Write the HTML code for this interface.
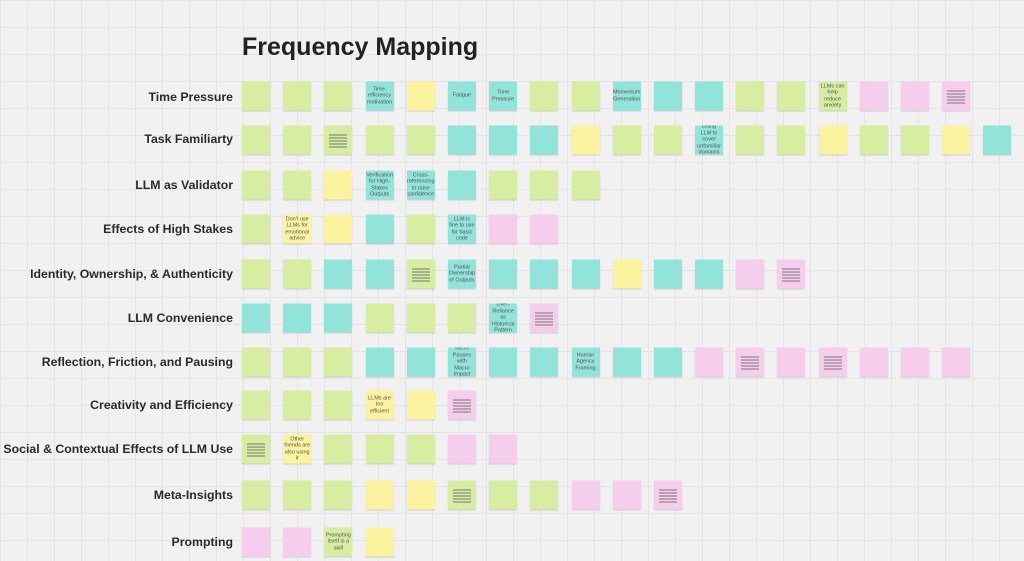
<!DOCTYPE html>
<html><head><meta charset="utf-8"><style>
html,body{margin:0;padding:0}
body{width:1024px;height:561px;overflow:hidden;position:relative;background:#f1f1f1;
background-image:linear-gradient(#e4e4e4 1px,transparent 1px),linear-gradient(90deg,#e4e4e4 1px,transparent 1px);
background-size:27px 27px;font-family:"Liberation Sans",sans-serif}
h1{position:absolute;left:242px;top:33px;margin:0;font-size:25px;font-weight:bold;color:#222}
.lab{position:absolute;right:791px;font-size:12.3px;font-weight:bold;color:#2a2a2a;white-space:nowrap;transform:translateY(-50%)}
.row{position:absolute;left:242px;display:flex;gap:13.2px;transform:translateY(-50%)}
.n{width:28px;height:29px;box-shadow:0 1px 1px rgba(0,0,0,.15);font-size:4.5px;line-height:5px;color:#555;text-align:center;display:flex;align-items:center;justify-content:center;overflow:hidden;padding:1px;box-sizing:border-box}
.g{background:#d6eda2}.c{background:#92e3da}.y{background:#fbf3a0}.p{background:#f7cdee}
.ln{width:18px;height:15px;background:repeating-linear-gradient(#0000 0 2px,#777 2px 3px)}
</style></head><body>
<h1>Frequency Mapping</h1>
<div class="lab" style="top:97px">Time Pressure</div>
<div class="lab" style="top:139px">Task Familiarty</div>
<div class="lab" style="top:185px">LLM as Validator</div>
<div class="lab" style="top:229px">Effects of High Stakes</div>
<div class="lab" style="top:274px">Identity, Ownership, &amp; Authenticity</div>
<div class="lab" style="top:318px">LLM Convenience</div>
<div class="lab" style="top:362px">Reflection, Friction, and Pausing</div>
<div class="lab" style="top:405px">Creativity and Efficiency</div>
<div class="lab" style="top:449px">Social &amp; Contextual Effects of LLM Use</div>
<div class="lab" style="top:495px">Meta-Insights</div>
<div class="lab" style="top:542px">Prompting</div>
<div id="rows"></div>
<script>
var rows=[
[96,"g g g c:Time-efficiency_motivation y c:Fatigue c:Time_Pressure g g c:Momentum_Generation c c g g g:LLMs_can_help_reduce_anxiety p p pL"],
[140,"g g gL g g c c c y g g c:Using_LLM_to_cover_unfamiliar_domains g g y g g y c"],
[185,"g g y c:Verification_for_High-Stakes_Outputs c:Cross-referencing_to_raise_confidence c g g g"],
[229,"g y:Don't_use_LLMs_for_emotional_advice y c g c:LLM_is_fine_to_use_for_basic_code p p"],
[274,"g g c c gL c:Partial_Ownership_of_Outputs c c c y c c p pL"],
[318,"c c c g g g c:Over-Reliance_as_Historical_Pattern pL"],
[362,"g g g c c c:Micro_Pauses_with_Macro_Impact c c c:Human_Agency_Framing c c p pL p pL p p p"],
[405,"g g g y:LLMs_are_too_efficient y pL"],
[449,"gL y:Other_friends_are_also_using_it g g g p p"],
[495,"g g g y y gL g g p p pL"],
[542,"p p g:Prompting_itself_is_a_skill y"]];
var out="";
rows.forEach(function(r){
 out+='<div class="row" style="top:'+r[0]+'px">';
 r[1].split(" ").forEach(function(t){
  var parts=t.split(":"),k=parts[0],txt=(parts[1]||"").replace(/_/g," ");
  var inner=k[1]=="L"?'<div class="ln"></div>':txt;
  var big=txt.length&&txt.length<40?' style="font-size:5.5px;line-height:6.5px"':'';
  out+='<div class="n '+k[0]+'"'+big+'>'+inner+'</div>';
 });
 out+='</div>';
});
document.getElementById("rows").innerHTML=out;
</script>
</body></html>
